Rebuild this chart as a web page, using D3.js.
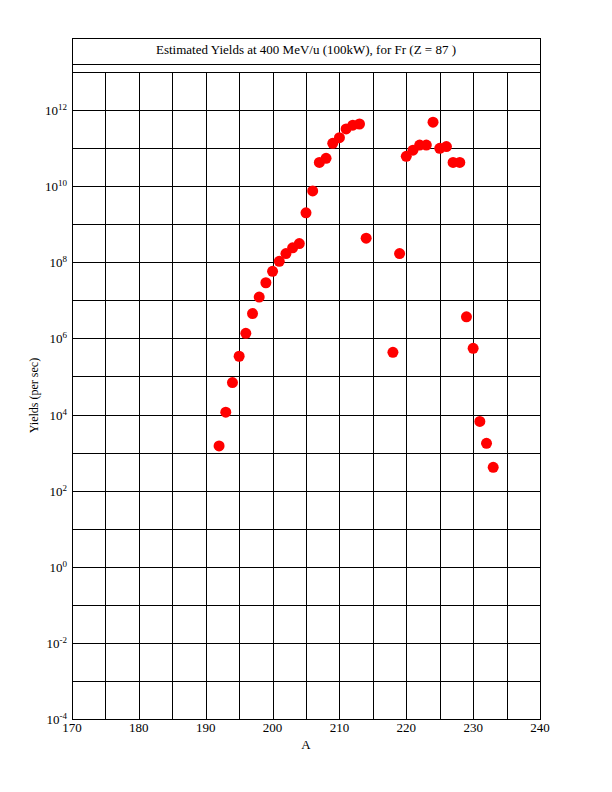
<!DOCTYPE html>
<html><head><meta charset="utf-8">
<script src="https://cdn.jsdelivr.net/npm/d3@7"></script>
<style>body{margin:0;background:#fff}svg{display:block}</style>
</head><body>
<script>
const massNumbers = [192,193,194,195,196,197,198,199,200,201,202,203,204,205,206,207,208,209,210,211,212,213,214,218,219,220,221,222,223,224,225,226,227,228,229,230,231,232,233];
const yields = [1.5e3,1.15e4,6.9e4,3.4e5,1.36e6,4.5e6,1.22e7,2.9e7,5.8e7,1.06e8,1.7e8,2.4e8,3.1e8,2.0e9,7.5e9,4.2e10,5.4e10,1.34e11,1.88e11,3.2e11,4.0e11,4.3e11,4.3e8,4.3e5,1.7e8,6.1e10,8.8e10,1.2e11,1.2e11,4.8e11,9.9e10,1.1e11,4.2e10,4.2e10,3.7e6,5.5e5,6.6e3,1.75e3,4.1e2];
const xTicks = [170,180,190,200,210,220,230,240];
const xGrid = [170,175,180,185,190,195,200,205,210,215,220,225,230,235,240];
const yTickExps = [12,10,8,6,4,2,0,-2,-4];
const yGridExps = [-4,-3,-2,-1,0,1,2,3,4,5,6,7,8,9,10,11,12,13];
const title = "Estimated Yields at 400 MeV/u (100kW), for Fr (Z = 87 )";
const xLabel = "A";
const yLabel = "Yields (per sec)";

const W = 612, H = 792;
const L = 72, R = 540, T = 72, B = 719, titleTop = 38, titleBottom = 64;
const font = "'Liberation Serif', 'DejaVu Serif', serif";

const svg = d3.select("body").append("svg").attr("width", W).attr("height", H);
const x = d3.scaleLinear().domain([170, 240]).range([L, R]);
const y = d3.scaleLog().domain([1e-4, 1e13]).range([B, T]);
const px = v => Math.round(v) + 0.5;

const g = svg.append("g").attr("stroke", "#000").attr("stroke-width", 1);
// grid
g.selectAll(".vg").data(xGrid).join("line")
  .attr("x1", d => px(x(d))).attr("x2", d => px(x(d))).attr("y1", T).attr("y2", B);
g.selectAll(".hg").data(yGridExps).join("line")
  .attr("x1", L).attr("x2", R).attr("y1", d => px(y(Math.pow(10, d)))).attr("y2", d => px(y(Math.pow(10, d))));
// frame + title box
g.append("line").attr("x1", px(L)).attr("x2", px(L)).attr("y1", titleTop).attr("y2", B + 1);
g.append("line").attr("x1", px(R)).attr("x2", px(R)).attr("y1", titleTop).attr("y2", B + 1);
g.append("line").attr("x1", L).attr("x2", R + 1).attr("y1", px(titleTop)).attr("y2", px(titleTop));
g.append("line").attr("x1", L).attr("x2", R + 1).attr("y1", px(titleBottom)).attr("y2", px(titleBottom));

svg.append("text").attr("x", (L + R) / 2).attr("y", 54).attr("text-anchor", "middle")
  .attr("font-family", font).attr("font-size", 13).text(title);

// x axis labels
svg.selectAll(".xt").data(xTicks).join("text")
  .attr("x", d => x(d)).attr("y", 732).attr("text-anchor", "middle")
  .attr("font-family", font).attr("font-size", 13).text(d => d);
svg.append("text").attr("x", (L + R) / 2).attr("y", 749).attr("text-anchor", "middle")
  .attr("font-family", font).attr("font-size", 13).text(xLabel);

// y axis labels
const yt = svg.selectAll(".yt").data(yTickExps).join("text")
  .attr("x", 67).attr("y", d => y(Math.pow(10, d)) + 5).attr("text-anchor", "end")
  .attr("font-family", font).attr("font-size", 13);
yt.append("tspan").text("10");
yt.append("tspan").attr("dy", -5).attr("font-size", 9).text(d => d < 0 ? "-" + Math.abs(d) : d);

svg.append("text").attr("transform", `translate(38,${(T + B) / 2}) rotate(-90)`)
  .attr("text-anchor", "middle").attr("font-family", font).attr("font-size", 12).text(yLabel);

// points
svg.selectAll(".pt").data(massNumbers.map((a, i) => [a, yields[i]])).join("circle")
  .attr("cx", d => x(d[0])).attr("cy", d => y(d[1])).attr("r", 5.5).attr("fill", "#ff0000");
</script>
</body></html>
